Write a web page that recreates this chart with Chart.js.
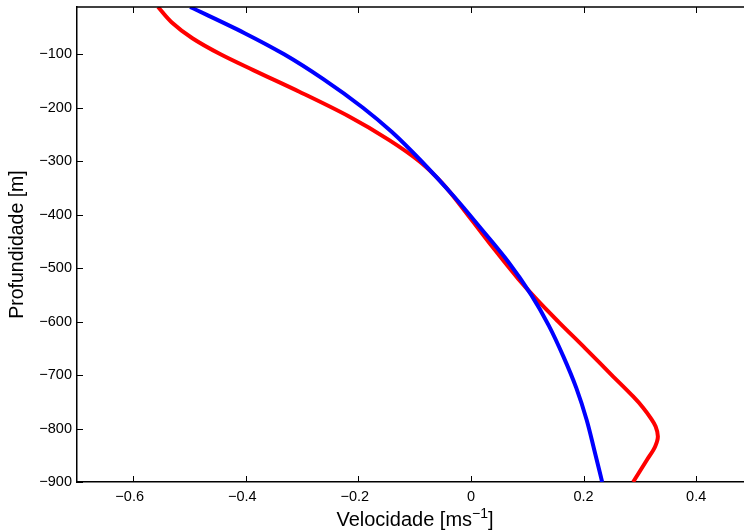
<!DOCTYPE html>
<html>
<head>
<meta charset="utf-8">
<script src="https://cdn.jsdelivr.net/npm/chart.js@4/dist/chart.umd.min.js"></script>
<style>
html,body{margin:0;padding:0;background:#fff;overflow:hidden;}
#wrap{width:744px;height:531px;position:relative;}
</style>
</head>
<body>
<div id="wrap"><canvas id="c" width="744" height="531"></canvas></div>
<script>
// Depth (m) and velocity (m/s)
const depthRed  = [-11.5,-40,-70,-100,-130,-170,-215,-260,-300,-340,-400,-460,-520,-560,-600,-650,-700,-740,-760,-780,-796,-815,-834,-858,-900];
const velRed    = [-0.556,-0.532,-0.495,-0.445,-0.386,-0.305,-0.219,-0.146,-0.092,-0.052,-0.006,0.038,0.084,0.118,0.155,0.203,0.250,0.288,0.305,0.319,0.328,0.332,0.327,0.313,0.288];
const depthBlue = [-11.5,-60,-100,-146,-200,-245,-300,-365,-430,-488,-550,-607,-665,-724,-784,-840,-900];
const velBlue   = [-0.499,-0.403,-0.332,-0.263,-0.192,-0.141,-0.088,-0.031,0.021,0.066,0.107,0.138,0.164,0.187,0.2055,0.219,0.233];
const xTicks = [-0.6,-0.4,-0.2,0,0.2,0.4];
const yTicks = [-100,-200,-300,-400,-500,-600,-700,-800,-900];
const xLabelMain = 'Velocidade [ms';
const xLabelSup = '\u22121';
const xLabelEnd = ']';
const yLabel = 'Profundidade [m]';

const fmt = v => {
  if (Math.abs(v) < 1e-9) return '0';
  const s = Math.abs(v) >= 1 ? String(Math.abs(Math.round(v))) : String(Math.abs(+v.toFixed(1)));
  return (v < 0 ? '\u2212' : '') + s;
};

const font = 'Liberation Sans, Arial, Helvetica, sans-serif';

const extras = {
  id: 'extras',
  afterDraw(chart) {
    const {ctx, chartArea: a, scales: {x, y}} = chart;
    ctx.save();
    ctx.strokeStyle = '#000';
    ctx.lineWidth = 1;
    ctx.beginPath();
    xTicks.forEach(v => {
      const px = Math.round(x.getPixelForValue(v)) + 0.5;
      ctx.moveTo(px, a.bottom); ctx.lineTo(px, a.bottom - 6);
      ctx.moveTo(px, a.top); ctx.lineTo(px, a.top + 6);
    });
    yTicks.forEach(v => {
      const py = Math.round(y.getPixelForValue(v)) + 0.5;
      ctx.moveTo(a.left, py); ctx.lineTo(a.left + 6, py);
    });
    ctx.stroke();
    ctx.lineWidth = 1.5;
    ctx.beginPath();
    ctx.moveTo(a.left, a.top); ctx.lineTo(a.right, a.top);
    ctx.stroke();
    // x axis title with superscript
    ctx.fillStyle = '#000';
    ctx.textBaseline = 'alphabetic';
    ctx.textAlign = 'left';
    const fMain = '20px ' + font, fSup = '14px ' + font;
    ctx.font = fMain;
    const w1 = ctx.measureText(xLabelMain).width;
    const w3 = ctx.measureText(xLabelEnd).width;
    ctx.font = fSup;
    const w2 = ctx.measureText(xLabelSup).width;
    const total = w1 + w2 + w3;
    const cx = 415;
    let sx = cx - total / 2;
    const base = 526;
    ctx.font = fMain; ctx.fillText(xLabelMain, sx, base); sx += w1;
    ctx.font = fSup; ctx.fillText(xLabelSup, sx, base - 8); sx += w2;
    ctx.font = fMain; ctx.fillText(xLabelEnd, sx, base);
    ctx.restore();
  }
};

new Chart(document.getElementById('c'), {
  type: 'line',
  data: {
    datasets: [
      { data: depthBlue.map((d, i) => ({x: velBlue[i], y: d})), borderColor: '#0000ff', borderWidth: 4, pointRadius: 0, fill: false, cubicInterpolationMode: 'monotone' },
      { data: depthRed.map((d, i) => ({x: velRed[i], y: d})), borderColor: '#ff0000', borderWidth: 4, pointRadius: 0, fill: false, cubicInterpolationMode: 'monotone' }
    ]
  },
  options: {
    indexAxis: 'y',
    responsive: false,
    animation: false,
    events: [],
    layout: { padding: { top: 7, right: 0, left: 0, bottom: 0 } },
    plugins: { legend: { display: false }, tooltip: { enabled: false } },
    scales: {
      x: {
        type: 'linear',
        min: -0.7,
        max: 0.485,
        afterBuildTicks: s => { s.ticks = xTicks.map(v => ({value: v})); },
        afterFit: s => { s.height = 49; s.paddingLeft = 0; s.paddingRight = 0; },
        grid: { display: false, drawTicks: false },
        border: { display: true, color: '#000', width: 1.5 },
        ticks: { color: '#000', padding: 6, font: { family: font, size: 14.5 }, callback: v => fmt(v) + (v < 0 ? '\u2002' : ''), maxRotation: 0, autoSkip: false },
        title: { display: false }
      },
      y: {
        type: 'linear',
        min: -900,
        max: -11.5,
        afterBuildTicks: s => { s.ticks = yTicks.map(v => ({value: v})); },
        afterFit: s => { s.width = 77; s.paddingTop = 0; s.paddingBottom = 0; },
        grid: { display: false, drawTicks: false },
        border: { display: true, color: '#000', width: 1.5 },
        ticks: { color: '#000', padding: 5, font: { family: font, size: 14.5 }, callback: v => fmt(v), autoSkip: false },
        title: { display: true, text: yLabel, color: '#000', font: { family: font, size: 19.5 }, padding: { top: 6, bottom: 0 } }
      }
    }
  },
  plugins: [extras]
});
</script>
</body>
</html>
